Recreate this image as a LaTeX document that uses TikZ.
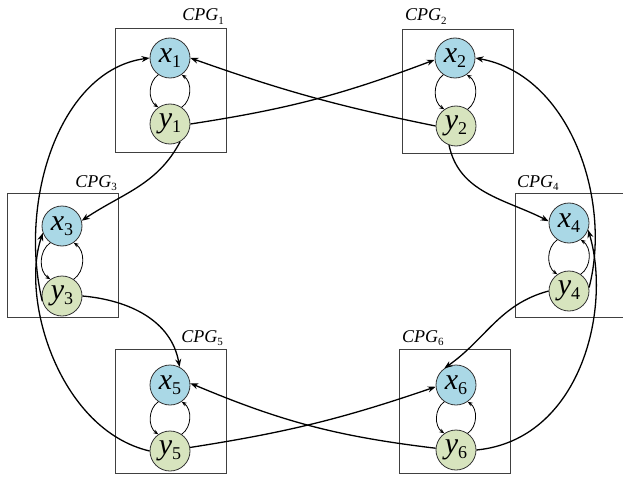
\documentclass[tikz,border=0pt]{standalone}
\usepackage{fontspec}
\setmainfont{Liberation Serif}
\usetikzlibrary{arrows.meta}
\definecolor{xblue}{RGB}{170,216,230}
\definecolor{ygreen}{RGB}{215,228,190}
\newcommand{\nlab}[2]{{\fontsize{30}{30}\selectfont\itshape #1}\raisebox{-5pt}{\fontsize{18}{18}\selectfont #2}}
\newcommand{\cpglab}[1]{{\fontsize{18}{18}\selectfont\itshape CPG}\raisebox{-3.5pt}{\fontsize{11}{11}\selectfont #1}}
\begin{document}
\begin{tikzpicture}[x=1pt,y=-1pt,
  cpgbox/.style={draw=black!75, line width=0.8pt, inner sep=0pt, minimum width=111pt, minimum height=124pt},
  xnode/.style={circle, draw=black!80, line width=0.8pt, fill=xblue, minimum size=40pt, inner sep=0pt},
  ynode/.style={circle, draw=black!80, line width=0.8pt, fill=ygreen, minimum size=40pt, inner sep=0pt},
  link/.style={line width=1.3pt, -{Stealth[length=8pt,width=6pt]}},
  innerlink/.style={line width=0.8pt, -{Stealth[length=5pt,width=4pt]}},
  lab/.style={inner sep=0pt}]
\useasboundingbox (0,0) rectangle (623,476);
% boxes
\node[cpgbox] (b1) at (170.5,90) {};
\node[cpgbox] (b2) at (458,91) {};
\node[cpgbox] (b3) at (62.5,255.5) {};
\node[cpgbox] (b4) at (570.5,255) {};
\node[cpgbox] (b5) at (170.5,411) {};
\node[cpgbox] (b6) at (454.5,411.5) {};
% labels
\node[lab, anchor=base east] (l1) at (224,21) {\cpglab{1}};
\node[lab, anchor=base west] (l2) at (405,21) {\cpglab{2}};
\node[lab, anchor=base east] (l3) at (117,187) {\cpglab{3}};
\node[lab, anchor=base west] (l4) at (517,187) {\cpglab{4}};
\node[lab, anchor=base east] (l5) at (223,342) {\cpglab{5}};
\node[lab, anchor=base west] (l6) at (402,342) {\cpglab{6}};
% neurons
\node[xnode] (x1) at (170,58) {\nlab{x}{1}};
\node[ynode] (y1) at (170,124) {\nlab{y}{1}};
\node[xnode] (x2) at (455,58) {\nlab{x}{2}};
\node[ynode] (y2) at (456,126) {\nlab{y}{2}};
\node[xnode] (x3) at (62,226) {\nlab{x}{3}};
\node[ynode] (y3) at (62,296) {\nlab{y}{3}};
\node[xnode] (x4) at (569,223) {\nlab{x}{4}};
\node[ynode] (y4) at (569,291) {\nlab{y}{4}};
\node[xnode] (x5) at (170,385) {\nlab{x}{5}};
\node[ynode] (y5) at (170,451) {\nlab{y}{5}};
\node[xnode] (x6) at (456,385) {\nlab{x}{6}};
\node[ynode] (y6) at (456,450) {\nlab{y}{6}};
% internal loops
\foreach \i in {1,...,6}{
  \draw[innerlink] (x\i.235) to[bend right=55] (y\i.125);
  \draw[innerlink] (y\i.55) to[bend right=55] (x\i.305);
}
% couplings
\draw[link] (y1.east) to[bend right=6] (x2.185);
\draw[link] (y2.west) to[bend left=4] (x1.east);
\draw[link] (y5.10) to[bend right=5] (x6.185);
\draw[link] (y6.175) to[bend left=8] (x5.5);
\draw[link] (y1.-60) to[out=-118,in=34] (x3.15);
\draw[link] (y2.250) to[out=-78,in=153] (x4.175);
\draw[link] (y3.east) to[out=-5,in=100] (x5.62);
\draw[link] (y4.west) to[out=195,in=35] (x6.125);
% long arcs
\draw[link] (y3.195) .. controls (18,200) and (60,70) .. (x1.west);
\draw[link] (y5.west) .. controls (60,430) and (20,300) .. (x3.200);
\draw[link] (y4.10) .. controls (612,200) and (570,75) .. (x2.east);
\draw[link] (y6.east) .. controls (580,440) and (612,310) .. (x4.-20);
\end{tikzpicture}
\end{document}
